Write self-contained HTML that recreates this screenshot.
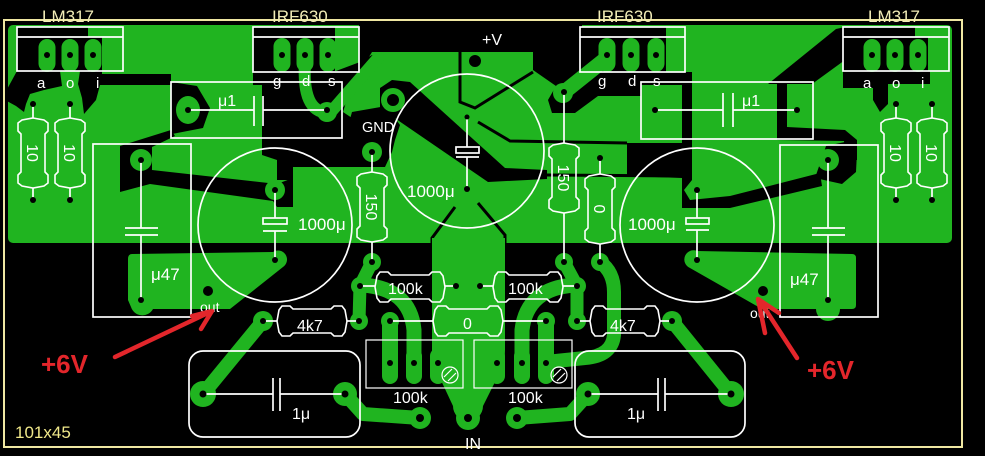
<!DOCTYPE html>
<html><head><meta charset="utf-8"><style>
html,body{margin:0;padding:0;background:#000;}
svg{display:block;}
text{font-family:"Liberation Sans",sans-serif;}
</style></head><body>
<svg width="985" height="456" viewBox="0 0 985 456" xmlns="http://www.w3.org/2000/svg">
<defs>
<path id="res" d="M-35,0 L-33,-11 L-30,-15 L-22,-15 L-19,-12 L19,-12 L22,-15 L30,-15 L33,-11 L35,0 L33,11 L30,15 L22,15 L19,12 L-19,12 L-22,15 L-30,15 L-33,11 Z" fill="none" stroke="#fff" stroke-width="1.6"/>
</defs>
<rect width="985" height="456" fill="#000"/>
<!-- upper copper -->
<rect x="8" y="25" width="944" height="218" rx="5" fill="#20b420"/>
<g fill="#000">
<polygon points="359,25 582,25 582,52 372,52 361,70 359,70"/>
<polygon points="253,27 335,27 335,72 253,72"/>
<polygon points="580,27 666,27 666,72 580,72"/>
<polygon points="17,27 88,27 88,37 102,37 102,71 17,71"/>
<polygon points="843,27 915,27 915,37 928,37 928,71 843,71"/>
<polygon points="5,93 17,71 60,71 62,86 44,90 30,94 26,104 24,112 16,106 5,100"/>
<polygon points="80,71 102,71 102,74 171,74 171,85 100,85 96,100 84,114 82,98 78,84"/>
<polygon points="171,82 197,86 210,108 203,128 172,134"/>
<polygon points="120,146 171,130 175,136 152,147 152,170 277,184 293,178 293,207 277,207 273,201 150,184 120,192"/>
<polygon points="262,137 345,137 352,112 386,106 400,125 395,140 392,152 385,167 293,167 293,180 277,180 277,160 262,155"/>
<polygon points="253,71 336,71 360,62 372,55 379,60 348,96 343,112 352,118 345,137 262,137 262,85 253,85"/>
<polygon points="380,88 392,80 410,82 505,168 547,170 547,179 488,182 380,108"/>
<polygon points="533,52 582,52 582,72 692,72 692,85 641,85 641,96 598,96 575,113 552,113 548,100 556,86 533,70"/>
<polygon points="682,84 692,84 692,180 684,190 690,200 730,196 820,173 822,186 730,208 682,208"/>
<polygon points="627,143 682,143 682,178 627,176"/>
<polygon points="815,178 826,146 845,142 857,152 856,172 842,184"/>
<polygon points="777,84 787,84 787,127 845,130 857,140 857,160 846,160 844,141 777,140"/>
<polygon points="768,84 812,84 845,60 845,27 836,29"/>
<polygon points="843,71 930,71 930,84 888,84 888,104 880,112 873,100 873,88 843,88"/>
</g>
<g fill="none" stroke="#000" stroke-width="3">
<polyline points="460,52 460,102 475,108 533,72"/>
<polyline points="478,122 510,141 627,143"/>
<polyline points="547,175 682,176"/>
<polyline points="455,207 432,238 432,243"/>
<polyline points="478,203 505,235 505,243"/>
</g>
<!-- green patches on black (upper) -->
<g fill="#20b420">
<ellipse cx="188" cy="110" rx="12" ry="14"/>
<circle cx="141" cy="160" r="11"/>
<circle cx="275" cy="190" r="10"/>
<circle cx="372" cy="152" r="10"/>
<circle cx="393" cy="100" r="12"/>
<circle cx="327" cy="112" r="10"/>
<circle cx="563" cy="93" r="10"/>
<circle cx="697" cy="190" r="9"/>
<circle cx="828" cy="160" r="11"/>
<rect x="38.5" y="39" width="17" height="33" rx="8.5"/>
<rect x="61.5" y="39" width="17" height="33" rx="8.5"/>
<rect x="84.5" y="39" width="17" height="33" rx="8.5"/>
<rect x="863.5" y="39" width="17" height="33" rx="8.5"/>
<rect x="886.5" y="39" width="17" height="33" rx="8.5"/>
<rect x="909.5" y="39" width="17" height="33" rx="8.5"/>
<rect x="273.5" y="38" width="17" height="34" rx="8.5"/>
<rect x="296.5" y="38" width="17" height="34" rx="8.5"/>
<rect x="319.5" y="38" width="17" height="34" rx="8.5"/>
<rect x="598.5" y="38" width="17" height="34" rx="8.5"/>
<rect x="622.5" y="38" width="17" height="34" rx="8.5"/>
<rect x="647.5" y="38" width="17" height="34" rx="8.5"/>
</g>
<g fill="none" stroke="#20b420" stroke-linecap="round" stroke-linejoin="round">
<path d="M305,62 C303,95 310,112 328,113" stroke-width="12"/>
<line x1="330" y1="113" x2="378" y2="58" stroke-width="12"/>
<line x1="563" y1="93" x2="608" y2="57" stroke-width="15"/>
</g>
<!-- lower copper -->
<g fill="#20b420">
<path d="M132,254 L273,252 A9,9 0 0 1 283,267 L230,309 L153,309 A12,12 0 0 1 131,307 L128,300 L128,259 Q128,254 132,254 Z"/>
<path d="M697,251 L852,254 Q856,254 856,258 L856,305 Q856,309 852,309 L840,309 A12,12 0 0 1 816,309 L762,309 L690,268 A9,9 0 0 1 697,251 Z"/>
<path d="M432,238 L505,238 L505,350 Q505,362 498,376 L483,406 A15,15 0 0 1 453,406 L439,376 Q432,362 432,350 Z"/>
<circle cx="203" cy="394" r="13"/><circle cx="345" cy="394" r="12"/>
<circle cx="588" cy="394" r="12"/><circle cx="731" cy="394" r="13"/>
<circle cx="420" cy="418" r="11"/><circle cx="468" cy="418" r="12"/><circle cx="517" cy="418" r="11"/>
<circle cx="360" cy="286" r="9"/><circle cx="577" cy="286" r="9"/>
<circle cx="372" cy="262" r="9"/><circle cx="564" cy="262" r="9"/><circle cx="600" cy="262" r="9"/>
<circle cx="390" cy="321" r="9"/><circle cx="546" cy="321" r="9"/>
<circle cx="263" cy="321" r="10"/><circle cx="359" cy="321" r="9"/>
<circle cx="577" cy="321" r="9"/><circle cx="672" cy="321" r="10"/>
<rect x="382" y="348" width="16" height="36" rx="8"/>
<rect x="406" y="348" width="16" height="36" rx="8"/>
<rect x="430" y="348" width="16" height="36" rx="8"/>
<rect x="489" y="348" width="16" height="36" rx="8"/>
<rect x="514" y="348" width="16" height="36" rx="8"/>
<rect x="538" y="348" width="16" height="36" rx="8"/>
</g>
<g fill="none" stroke="#20b420" stroke-linecap="round" stroke-linejoin="round" stroke-width="14">
<line x1="263" y1="321" x2="203" y2="394"/>
<line x1="672" y1="321" x2="731" y2="394"/>
<polyline points="372,262 360,286 359,321" stroke-width="13"/>
<polyline points="564,262 577,286 577,321" stroke-width="13"/>
<path d="M362,285 Q410,288 414,330 L414,365" stroke-width="15"/>
<path d="M575,285 Q527,288 522,330 L522,365" stroke-width="15"/>
<line x1="390" y1="321" x2="390" y2="366" stroke-width="16"/>
<line x1="546" y1="321" x2="546" y2="366" stroke-width="16"/>
<path d="M600,262 Q614,272 614,292 L614,335 Q612,356 585,358 L546,362"/>
<polyline points="345,394 363,414 420,418"/>
<polyline points="588,394 570,414 517,418"/>
</g>
<!-- border -->
<rect x="4" y="20" width="958" height="427" fill="none" stroke="#efe7a2" stroke-width="2"/>
<!-- white outlines -->
<g fill="none" stroke="#fff" stroke-width="1.7">
<rect x="17" y="27" width="106" height="44"/><line x1="17" y1="37" x2="123" y2="37"/>
<rect x="843" y="27" width="106" height="44"/><line x1="843" y1="37" x2="949" y2="37"/>
<rect x="253" y="27" width="106" height="45"/><line x1="253" y1="37" x2="359" y2="37"/>
<rect x="580" y="27" width="105" height="45"/><line x1="580" y1="37" x2="685" y2="37"/>
<rect x="171" y="82" width="171" height="56"/>
<rect x="641" y="82" width="172" height="57"/>
<rect x="93" y="144" width="98" height="173"/>
<rect x="780" y="145" width="98" height="172"/>
<line x1="188" y1="110" x2="254" y2="110"/><line x1="254" y1="96" x2="254" y2="126"/><line x1="263" y1="96" x2="263" y2="126"/><line x1="263" y1="110" x2="327" y2="110"/>
<line x1="655" y1="110" x2="723" y2="110"/><line x1="723" y1="93" x2="723" y2="127"/><line x1="733" y1="93" x2="733" y2="127"/><line x1="733" y1="110" x2="797" y2="110"/>
<line x1="141" y1="160" x2="141" y2="228"/><line x1="125" y1="228" x2="158" y2="228"/><line x1="125" y1="235" x2="158" y2="235"/><line x1="141" y1="235" x2="141" y2="300"/>
<line x1="828" y1="160" x2="828" y2="228"/><line x1="812" y1="228" x2="845" y2="228"/><line x1="812" y1="235" x2="845" y2="235"/><line x1="828" y1="235" x2="828" y2="300"/>
<circle cx="275" cy="225" r="77"/><circle cx="467" cy="151" r="77"/><circle cx="697" cy="225" r="77"/>
<line x1="275" y1="190" x2="275" y2="218"/><rect x="263" y="218" width="24" height="6"/><line x1="263" y1="231" x2="287" y2="231"/><line x1="275" y1="231" x2="275" y2="260"/>
<line x1="467" y1="117" x2="467" y2="147"/><rect x="456" y="147" width="23" height="6"/><line x1="456" y1="157" x2="479" y2="157"/><line x1="467" y1="157" x2="467" y2="189"/>
<line x1="697" y1="190" x2="697" y2="218"/><rect x="686" y="218" width="23" height="6"/><line x1="686" y1="230" x2="709" y2="230"/><line x1="697" y1="230" x2="697" y2="260"/>
<line x1="33" y1="104" x2="33" y2="118"/><line x1="33" y1="188" x2="33" y2="200"/>
<line x1="70" y1="104" x2="70" y2="118"/><line x1="70" y1="188" x2="70" y2="200"/>
<line x1="896" y1="104" x2="896" y2="118"/><line x1="896" y1="188" x2="896" y2="200"/>
<line x1="932" y1="104" x2="932" y2="118"/><line x1="932" y1="188" x2="932" y2="200"/>
<line x1="372" y1="152" x2="372" y2="172"/><line x1="372" y1="242" x2="372" y2="262"/>
<line x1="564" y1="92" x2="564" y2="143"/><line x1="564" y1="213" x2="564" y2="262"/>
<line x1="600" y1="158" x2="600" y2="174"/><line x1="600" y1="244" x2="600" y2="262"/>
<line x1="360" y1="286" x2="375" y2="286"/><line x1="445" y1="286" x2="456" y2="286"/>
<line x1="480" y1="286" x2="493" y2="286"/><line x1="563" y1="286" x2="577" y2="286"/>
<line x1="390" y1="321" x2="433" y2="321"/><line x1="503" y1="321" x2="546" y2="321"/>
<line x1="263" y1="321" x2="277" y2="321"/><line x1="347" y1="321" x2="359" y2="321"/>
<line x1="577" y1="321" x2="590" y2="321"/><line x1="660" y1="321" x2="672" y2="321"/>
<rect x="366" y="340" width="97" height="48" stroke-width="1.2"/>
<rect x="474" y="340" width="98" height="48" stroke-width="1.2"/>
<circle cx="450" cy="375" r="8" stroke-width="1.2"/><line x1="444" y1="377" x2="452" y2="369" stroke-width="1.2"/><line x1="448" y1="381" x2="456" y2="373" stroke-width="1.2"/>
<circle cx="559" cy="375" r="8" stroke-width="1.2"/><line x1="553" y1="377" x2="561" y2="369" stroke-width="1.2"/><line x1="557" y1="381" x2="565" y2="373" stroke-width="1.2"/>
<rect x="189" y="351" width="171" height="86" rx="14"/>
<rect x="575" y="351" width="170" height="86" rx="14"/>
<line x1="203" y1="394" x2="273" y2="394"/><line x1="273" y1="378" x2="273" y2="411"/><line x1="280" y1="378" x2="280" y2="411"/><line x1="280" y1="394" x2="345" y2="394"/>
<line x1="588" y1="394" x2="658" y2="394"/><line x1="658" y1="378" x2="658" y2="411"/><line x1="665" y1="378" x2="665" y2="411"/><line x1="665" y1="394" x2="731" y2="394"/>
</g>
<use href="#res" transform="translate(33,153) rotate(90)"/>
<use href="#res" transform="translate(70,153) rotate(90)"/>
<use href="#res" transform="translate(896,153) rotate(90)"/>
<use href="#res" transform="translate(932,153) rotate(90)"/>
<use href="#res" transform="translate(372,207) rotate(90)"/>
<use href="#res" transform="translate(564,178) rotate(90)"/>
<use href="#res" transform="translate(600,209) rotate(90)"/>
<use href="#res" transform="translate(410,287)"/>
<use href="#res" transform="translate(528,287)"/>
<use href="#res" transform="translate(468,321)"/>
<use href="#res" transform="translate(312,321)"/>
<use href="#res" transform="translate(625,321)"/>
<!-- holes -->
<g fill="#000">
<circle cx="47" cy="55" r="3"/><circle cx="70" cy="55" r="3"/><circle cx="93" cy="55" r="3"/>
<circle cx="872" cy="55" r="3"/><circle cx="895" cy="55" r="3"/><circle cx="918" cy="55" r="3"/>
<circle cx="282" cy="55" r="3"/><circle cx="305" cy="55" r="3"/><circle cx="328" cy="55" r="3"/>
<circle cx="607" cy="55" r="3"/><circle cx="631" cy="55" r="3"/><circle cx="656" cy="55" r="3"/>
<circle cx="33" cy="104" r="3"/><circle cx="70" cy="104" r="3"/><circle cx="33" cy="200" r="3"/><circle cx="70" cy="200" r="3"/>
<circle cx="896" cy="104" r="3"/><circle cx="932" cy="104" r="3"/><circle cx="896" cy="200" r="3"/><circle cx="932" cy="200" r="3"/>
<circle cx="188" cy="110" r="3"/><circle cx="327" cy="110" r="3"/><circle cx="655" cy="110" r="3"/><circle cx="797" cy="110" r="3"/>
<circle cx="141" cy="160" r="3"/><circle cx="141" cy="300" r="3"/><circle cx="828" cy="160" r="3"/><circle cx="828" cy="300" r="3"/>
<circle cx="275" cy="190" r="3"/><circle cx="275" cy="260" r="3"/><circle cx="697" cy="190" r="3"/><circle cx="697" cy="260" r="3"/>
<circle cx="467" cy="117" r="2.5"/><circle cx="467" cy="189" r="3"/>
<circle cx="372" cy="152" r="3"/><circle cx="372" cy="262" r="3"/>
<circle cx="564" cy="92" r="3"/><circle cx="564" cy="262" r="3"/><circle cx="600" cy="158" r="3"/><circle cx="600" cy="262" r="3"/>
<circle cx="393" cy="100" r="6"/><circle cx="475" cy="61" r="6"/>
<circle cx="208" cy="291" r="5"/><circle cx="763" cy="291" r="5"/>
<circle cx="360" cy="286" r="3"/><circle cx="456" cy="286" r="3"/><circle cx="480" cy="286" r="3"/><circle cx="577" cy="286" r="3"/>
<circle cx="390" cy="321" r="3"/><circle cx="546" cy="321" r="3"/><circle cx="263" cy="321" r="3"/><circle cx="359" cy="321" r="3"/>
<circle cx="577" cy="321" r="3"/><circle cx="672" cy="321" r="3"/>
<circle cx="390" cy="363" r="3"/><circle cx="414" cy="363" r="3"/><circle cx="438" cy="363" r="3"/>
<circle cx="497" cy="363" r="3"/><circle cx="522" cy="363" r="3"/><circle cx="546" cy="363" r="3"/>
<circle cx="203" cy="394" r="3.5"/><circle cx="345" cy="394" r="3.5"/><circle cx="588" cy="394" r="3.5"/><circle cx="731" cy="394" r="3.5"/>
<circle cx="420" cy="418" r="4"/><circle cx="468" cy="418" r="4"/><circle cx="517" cy="418" r="4"/>
</g>
<!-- text -->
<g fill="#f2edb8" font-size="17">
<text x="42" y="22">LM317</text>
<text x="272" y="22">IRF630</text>
<text x="597" y="22">IRF630</text>
<text x="868" y="22">LM317</text>
</g>
<g fill="#fff" font-size="15">
<text x="37" y="88">a</text><text x="66" y="88">o</text><text x="96" y="88">i</text>
<text x="863" y="88">a</text><text x="892" y="88">o</text><text x="921" y="88">i</text>
<text x="273" y="86">g</text><text x="302" y="86">d</text><text x="328" y="86">s</text>
<text x="598" y="86">g</text><text x="628" y="86">d</text><text x="653" y="86">s</text>
<text x="482" y="45" font-size="16">+V</text>
<text x="362" y="132" font-size="14.5">GND</text>
<text x="218" y="106" font-size="16">μ1</text>
<text x="742" y="106" font-size="16">μ1</text>
<text x="298" y="230" font-size="17">1000μ</text>
<text x="407" y="197" font-size="17">1000μ</text>
<text x="628" y="230" font-size="17">1000μ</text>
<text x="151" y="280" font-size="17">μ47</text>
<text x="790" y="285" font-size="17">μ47</text>
<text x="200" y="312" font-size="14">out</text>
<text x="750" y="318" font-size="14">out</text>
<text x="388" y="294" font-size="16">100k</text>
<text x="508" y="294" font-size="16">100k</text>
<text x="463" y="329" font-size="16">0</text>
<text x="297" y="331" font-size="16">4k7</text>
<text x="610" y="331" font-size="16">4k7</text>
<text x="393" y="403" font-size="16">100k</text>
<text x="508" y="403" font-size="16">100k</text>
<text x="292" y="419" font-size="16">1μ</text>
<text x="627" y="419" font-size="16">1μ</text>
<text x="465" y="449" font-size="16">IN</text>
<text transform="translate(33,153) rotate(90)" text-anchor="middle" dy="6" font-size="16">10</text>
<text transform="translate(70,153) rotate(90)" text-anchor="middle" dy="6" font-size="16">10</text>
<text transform="translate(896,153) rotate(90)" text-anchor="middle" dy="6" font-size="16">10</text>
<text transform="translate(932,153) rotate(90)" text-anchor="middle" dy="6" font-size="16">10</text>
<text transform="translate(372,207) rotate(90)" text-anchor="middle" dy="6" font-size="16">150</text>
<text transform="translate(564,178) rotate(90)" text-anchor="middle" dy="6" font-size="16">150</text>
<text transform="translate(600,209) rotate(90)" text-anchor="middle" dy="6" font-size="16">0</text>
</g>
<text x="15" y="438" font-size="17" fill="#f0e88a">101x45</text>
<!-- red annotations -->
<g stroke="#e3262b" stroke-width="4.5" stroke-linecap="round" stroke-linejoin="round" fill="none">
<line x1="115" y1="357" x2="210" y2="312"/>
<polyline points="192,316 212,311 201,329"/>
<line x1="797" y1="358" x2="760" y2="301"/>
<polyline points="765,333 758,299 779,313"/>
</g>
<g fill="#e3262b" font-size="26" font-weight="bold">
<text x="41" y="373">+6V</text>
<text x="807" y="379">+6V</text>
</g>
</svg>
</body></html>
